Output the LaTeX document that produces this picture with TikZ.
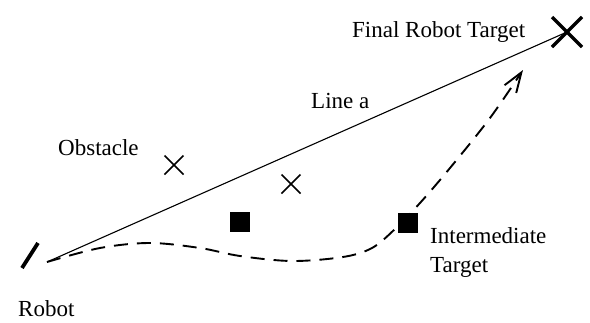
\documentclass[tikz,border=0pt]{standalone}
\usepackage{fontspec}
\setmainfont{Liberation Serif}
\usetikzlibrary{arrows.meta,calc}
\begin{document}
\begin{tikzpicture}[x=1pt,y=-1pt,
  lbl/.style={anchor=base west,inner sep=0pt,font=\fontsize{23}{27}\selectfont},
  thinline/.style={line width=1.1pt},
  obsmark/.style={line width=1.6pt},
  bigmark/.style={line width=3.5pt},
  sqr/.style={fill=black,minimum size=20pt,inner sep=0pt,draw=none},
  dashpath/.style={line width=1.9pt,dash pattern=on 14pt off 9pt,-{Straight Barb[length=20pt,width=14pt,line width=1.9pt]}}]
\useasboundingbox (0,0) rectangle (590,322);
% robot
\coordinate (r1) at (22,268);
\coordinate (r2) at (38,243);
\draw[line width=3.8pt] (r1) -- (r2);
\coordinate (start) at (47,262);
% final target
\coordinate (goal) at (567,32);
\draw[bigmark] ($(goal)+(-15,-15)$) -- ($(goal)+(15,15)$);
\draw[bigmark] ($(goal)+(-15,15)$) -- ($(goal)+(15,-15)$);
% line a
\draw[thinline] (start) -- (goal);
% obstacles
\coordinate (o1) at (174,165);
\coordinate (o2) at (291,184);
\foreach \o in {o1,o2}{
  \draw[obsmark] ($(\o)+(-9.5,-9.5)$) -- ($(\o)+(9.5,9.5)$);
  \draw[obsmark] ($(\o)+(-9.5,9.5)$) -- ($(\o)+(9.5,-9.5)$);
}
% squares
\node[sqr] (s1) at (240,222) {};
\node[sqr] (s2) at (408,223) {};
% dashed path
\coordinate (tip) at (523,70);
\draw[dashpath] plot[smooth,tension=0.55] coordinates {(47,262) (100,248) (150,243) (200,248) (240,256) (292,261) (343,257) (372,248) (395,229) (420,203) (450,168) (490,118) (523,70)};
% labels
\node[lbl] (tfinal) at (352,37) {Final Robot Target};
\node[lbl] (tline) at (311,108) {Line a};
\node[lbl] (tobs) at (58,155) {Obstacle};
\node[lbl] (tint1) at (430,243) {Intermediate};
\node[lbl] (tint2) at (430,272) {Target};
\node[lbl] (trobot) at (18,316) {Robot};
\end{tikzpicture}
\end{document}
